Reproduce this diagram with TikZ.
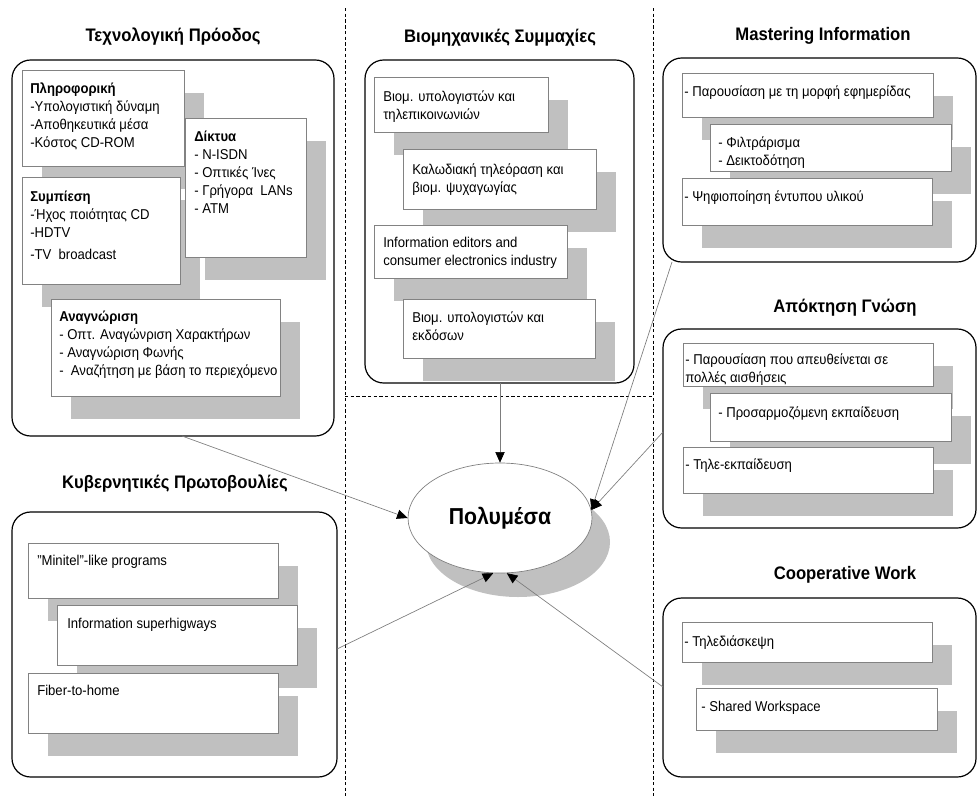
\documentclass[tikz,border=0pt]{standalone}
\usepackage{fontspec}
\setmainfont{Liberation Sans}[FakeStretch=0.92]
\usetikzlibrary{shapes.geometric,arrows.meta}
\definecolor{shadowc}{RGB}{192,192,192}
\definecolor{boxline}{RGB}{130,130,130}
\definecolor{connc}{RGB}{125,125,125}
\newcommand{\shbox}[4]{%
  \fill[shadowc,shift={(20,23)}] (#1,#2) rectangle (#3,#4);
  \draw[boxst] (#1,#2) rectangle (#3,#4);
}
\tikzset{
 boxst/.style={draw=boxline, fill=white, line width=0.5pt},
 panel/.style={draw=black, line width=0.9pt, rounded corners=14pt},
 tx/.style={anchor=north west, inner sep=0pt, align=left, font=\fontsize{10.7}{13.5}\selectfont},
 ttl/.style={font=\bfseries\fontsize{13.6}{16}\selectfont, inner sep=0pt},
 conn/.style={draw=connc, line width=0.5pt, -{Triangle[length=8pt,width=7pt,color=black]}},
 sepline/.style={draw=black, line width=0.6pt, dash pattern=on 2.5pt off 1.8pt},
}
\begin{document}
\begin{tikzpicture}[x=0.75pt,y=-0.75pt]
\useasboundingbox (0,0) rectangle (977,796);

% separators
\draw[sepline] (345,8) -- (345,796);
\draw[sepline] (653,8) -- (653,796);
\draw[sepline] (345,396) -- (653,396);

% titles
\node[ttl] (ti1) at (173,37) {Τεχνολογική Πρόοδος};
\node[ttl] (ti2) at (500,38) {Βιομηχανικές Συμμαχίες};
\node[ttl] (ti3) at (823,36) {Mastering Information};
\node[ttl] (ti4) at (845,308) {Απόκτηση Γνώση};
\node[ttl] (ti5) at (175,484) {Κυβερνητικές Πρωτοβουλίες};
\node[ttl] (ti6) at (845,575) {Cooperative Work};

% panels
\draw[panel] (12,60) rectangle (334,436);
\draw[panel] (365,60) rectangle (634,383);
\draw[panel] (663,58) rectangle (976,262);
\draw[panel] (663,329) rectangle (976,528);
\draw[panel] (12,512) rectangle (337,777);
\draw[panel] (663,598) rectangle (976,777);

% panel 1
\shbox{22}{70}{184}{166}
\node[tx] (t11) at (30,81) {\strut\textbf{Πληροφορική}\\-Υπολογιστική δύναμη\\-Αποθηκευτικά μέσα\\-Κόστος CD-ROM};
\shbox{22}{177}{180}{284}
\node[tx] (t12) at (30,189) {\strut\textbf{Συμπίεση}\\-Ήχος ποιότητας CD\\-HDTV\\[3pt]-TV\ \ broadcast};
\shbox{185}{118}{306}{257}
\node[tx] (t13) at (194,129) {\strut\textbf{Δίκτυα}\\- N-ISDN\\- Οπτικές Ίνες\\- Γρήγορα\ \ LANs\\- ATM};
\shbox{51}{299}{280}{396}
\node[tx] (t14) at (59,309) {\strut\textbf{Αναγνώριση}\\- Οπτ. Αναγώνριση Χαρακτήρων\\- Αναγνώριση Φωνής\\-\ \ Αναζήτηση με βάση το περιεχόμενο};

% panel 2
\shbox{374}{77}{548}{132}
\node[tx] (t21) at (383,89) {\strut Βιομ. υπολογιστών και\\τηλεπικοινωνιών};
\shbox{403}{149}{596}{209}
\node[tx] (t22) at (412,162) {\strut Καλωδιακή τηλεόραση και\\βιομ. ψυχαγωγίας};
\shbox{374}{225}{567}{278}
\node[tx] (t23) at (383,235) {\strut Information editors and\\consumer electronics industry};
\shbox{403}{299}{595}{358}
\node[tx] (t24) at (412,310) {\strut Βιομ. υπολογιστών και\\εκδόσων};

% panel 3
\shbox{682}{73}{933}{117}
\node[tx] (t31) at (684,84) {\strut - Παρουσίαση με τη μορφή εφημερίδας};
\shbox{710}{124}{951}{171}
\node[tx] (t32) at (718,135) {\strut - Φιλτράρισμα\\- Δεικτοδότηση};
\shbox{682}{178}{932}{225}
\node[tx] (t33) at (684,189) {\strut - Ψηφιοποίηση έντυπου υλικού};

% panel 4
\shbox{683}{343}{933}{386}
\node[tx] (t41) at (685,352) {\strut - Παρουσίαση που απευθείνεται σε\\πολλές αισθήσεις};
\shbox{710}{393}{951}{441}
\node[tx] (t42) at (718,405) {\strut - Προσαρμοζόμενη εκπαίδευση};
\shbox{683}{447}{933}{493}
\node[tx] (t43) at (685,457) {\strut - Τηλε-εκπαίδευση};

% panel 5
\shbox{28}{543}{278}{598}
\node[tx] (t51) at (37,553) {\strut\char34 Minitel\char34 -like programs};
\shbox{57}{605}{297}{665}
\node[tx] (t52) at (67,616) {\strut Information superhigways};
\shbox{28}{673}{278}{733}
\node[tx] (t53) at (37,683) {\strut Fiber-to-home};

% panel 6
\shbox{682}{622}{932}{662}
\node[tx] (t61) at (684,634) {\strut - Τηλεδιάσκεψη};
\shbox{696}{688}{937}{730}
\node[tx] (t62) at (701,699) {\strut - Shared Workspace};

% central ellipse
\node[ellipse, fill=shadowc, minimum width=138pt, minimum height=82.5pt, inner sep=0pt] (ellsh) at (518,542) {};
\node[ellipse, draw=connc, fill=white, line width=0.5pt, minimum width=138pt, minimum height=82.5pt, inner sep=0pt, font=\bfseries\fontsize{17.3}{20}\selectfont] (ell) at (500,518) {Πολυμέσα};

% connector start points
\coordinate (c1) at (182,436);
\coordinate (c2) at (672,262);
\coordinate (c3) at (663,432);
\coordinate (c4) at (337,649);
\coordinate (c5) at (663,687);
\coordinate (c6) at (500,383);

\draw[conn] (c6) -- (ell.north);
\draw[conn] (c1) -- (ell.west);
\draw[conn] (c2) -- (ell.5);
\draw[conn] (c3) -- (ell.5);
\draw[conn] (c4) -- (ell.263);
\draw[conn] (c5) -- (ell.277);
\end{tikzpicture}
\end{document}
